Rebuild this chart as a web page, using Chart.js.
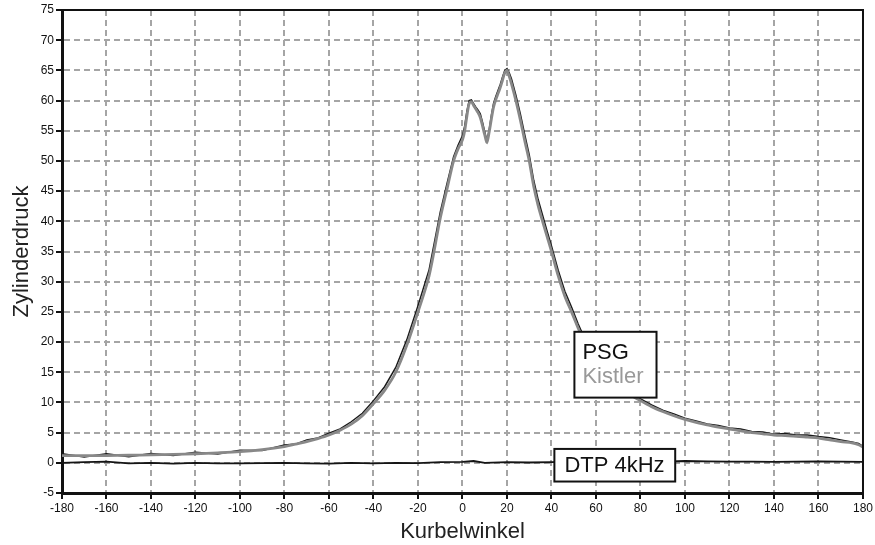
<!DOCTYPE html>
<html>
<head>
<meta charset="utf-8">
<script src="https://cdn.jsdelivr.net/npm/chart.js@4.4.1/dist/chart.umd.min.js"></script>
<style>
  html, body { margin: 0; padding: 0; background: #ffffff; }
  #wrap { width: 875px; height: 545px; position: relative; }
</style>
</head>
<body>
<div id="wrap"><canvas id="c" width="875" height="545"></canvas></div>
<script>
// ---- data ----
const angles = [-180,-170,-160,-150,-140,-130,-120,-110,-100,-90,-80,-75,-70,-65,-60,-55,-50,-45,-40,-35,-30,-25,-20,-15,-10,-7,-4,-2,0,1,2,3,4,5,6,7,8,9,10,11,12,13,14,15,16,17,18,19,20,21,22,24,26,28,30,32,34,36,38,40,43,46,49,52,55,60,65,70,75,80,85,90,95,100,105,110,115,120,125,130,135,140,145,150,155,160,165,170,175,178,180];

const kistler = [1.2,1.2,1.2,1.25,1.3,1.4,1.5,1.65,1.85,2.2,2.7,3.1,3.5,4.0,4.6,5.4,6.4,7.8,9.8,12.0,15.0,19.5,25.0,31.0,40.5,45.3,50.0,52.0,53.5,55.0,57.5,59.5,59.8,59.2,58.6,58.0,57.2,55.8,54.3,53.1,54.8,57.0,59.0,60.2,61.2,62.2,63.4,64.6,65.0,64.0,62.8,60.0,56.8,53.3,50.0,45.8,42.6,40.0,37.5,35.0,31.0,27.6,25.0,22.3,19.8,16.5,14.3,12.7,11.4,10.3,9.3,8.5,7.8,7.2,6.7,6.3,5.9,5.6,5.3,5.0,4.8,4.6,4.5,4.4,4.25,4.1,3.8,3.5,3.3,3.0,2.6];

const psg = [1.5,0.95,1.5,1.0,1.55,1.2,1.75,1.45,2.1,2.05,2.95,3.1,3.8,4.1,4.9,5.6,6.8,8.2,10.3,12.6,15.8,20.4,26.0,32.0,41.5,46.2,50.7,52.6,54.2,55.8,58.3,60.0,60.1,59.5,58.9,58.4,57.8,56.4,54.8,53.3,55.2,57.6,59.6,60.7,61.7,62.7,63.9,65.0,65.3,64.6,63.6,60.9,57.8,54.3,51.0,46.8,43.6,41.0,38.4,35.9,31.9,28.4,25.8,23.0,20.5,17.0,14.7,13.0,11.7,10.6,9.6,8.7,8.1,7.4,6.95,6.45,6.2,5.75,5.6,5.2,5.1,4.75,4.85,4.6,4.6,4.35,4.15,3.8,3.45,3.2,2.7];

const dtpAngles = [-180,-170,-160,-150,-140,-130,-120,-110,-100,-90,-80,-70,-60,-50,-40,-30,-20,-10,0,5,10,20,30,40,50,60,70,80,90,100,110,120,130,140,150,160,170,180];
const dtp = [0.0,0.1,0.2,-0.1,0.0,-0.15,0.0,-0.1,-0.1,-0.05,0.0,-0.1,-0.15,0.0,-0.1,0.0,-0.05,0.1,0.15,0.3,0.0,0.1,0.05,0.1,0.2,0.15,0.2,0.25,0.2,0.3,0.25,0.2,0.2,0.15,0.2,0.25,0.2,0.15];

const xTicks = [-180,-160,-140,-120,-100,-80,-60,-40,-20,0,20,40,60,80,100,120,140,160,180];
const yTicks = [-5,0,5,10,15,20,25,30,35,40,45,50,55,60,65,70,75];

const seriesNames = ['PSG', 'Kistler', 'DTP 4kHz'];
const xTitle = 'Kurbelwinkel';
const yTitle = 'Zylinderdruck';

// ---- chart ----
const FONT = '"Liberation Sans", Arial, Helvetica, sans-serif';

function pts(xs, ys) { return xs.map((x, i) => ({ x: x, y: ys[i] })); }

const boxPlugin = {
  id: 'boxes',
  afterDraw(chart) {
    const { ctx, chartArea: a, scales: { x, y } } = chart;
    ctx.save();
    // frame top and right
    ctx.strokeStyle = '#111';
    ctx.lineWidth = 2;
    ctx.beginPath();
    ctx.moveTo(a.left, a.top);
    ctx.lineTo(a.right, a.top);
    ctx.lineTo(a.right, a.bottom);
    ctx.stroke();

    ctx.font = '22px ' + FONT;
    ctx.textBaseline = 'middle';
    ctx.textAlign = 'left';

    // box 1: PSG / Kistler
    let l = x.getPixelForValue(50.3), r = x.getPixelForValue(87.2);
    let t = y.getPixelForValue(21.7), b = y.getPixelForValue(10.8);
    ctx.fillStyle = '#fff';
    ctx.fillRect(l, t, r - l, b - t);
    ctx.lineWidth = 2;
    ctx.strokeStyle = '#111';
    ctx.strokeRect(l, t, r - l, b - t);
    ctx.fillStyle = '#111';
    ctx.fillText(seriesNames[0], l + 8, t + 21);
    ctx.fillStyle = '#999';
    ctx.fillText(seriesNames[1], l + 8, t + 45);

    // box 2: DTP
    l = x.getPixelForValue(41.3); r = x.getPixelForValue(95.6);
    t = y.getPixelForValue(2.3); b = y.getPixelForValue(-3.1);
    ctx.fillStyle = '#fff';
    ctx.fillRect(l, t, r - l, b - t);
    ctx.strokeStyle = '#111';
    ctx.strokeRect(l, t, r - l, b - t);
    ctx.fillStyle = '#111';
    ctx.fillText(seriesNames[2], l + 10, (t + b) / 2 + 1);
    ctx.restore();
  }
};

new Chart(document.getElementById('c'), {
  type: 'line',
  data: {
    datasets: [
      { label: seriesNames[2], data: pts(dtpAngles, dtp), borderColor: '#151515', borderWidth: 1.8, pointRadius: 0, tension: 0, order: 1 },
      { label: seriesNames[1], data: pts(angles, kistler), borderColor: '#888888', borderWidth: 2.8, pointRadius: 0, tension: 0.3, order: 2 },
      { label: seriesNames[0], data: pts(angles, psg), borderColor: '#1a1a1a', borderWidth: 1.5, pointRadius: 0, tension: 0, order: 3 }
    ]
  },
  options: {
    responsive: false,
    animation: false,
    devicePixelRatio: 1,
    layout: { padding: { top: 10, right: 11, left: 0, bottom: 0 } },
    plugins: { legend: { display: false }, tooltip: { enabled: false } },
    scales: {
      x: {
        type: 'linear', min: -180, max: 180,
        afterBuildTicks: s => { s.ticks = xTicks.map(v => ({ value: v })); },
        afterFit: s => { s.height = 52; },
        ticks: { font: { family: FONT, size: 12 }, color: '#111', padding: 2, maxRotation: 0, autoSkip: false, callback: v => String(v) },
        grid: { color: '#a5a5a5', lineWidth: 2, tickColor: '#111', tickWidth: 2, tickLength: 6 },
        border: { display: true, color: '#111', width: 3, dash: [6, 4] },
        title: { display: true, text: xTitle, font: { family: FONT, size: 22 }, color: '#222', padding: { top: 0, bottom: 0 } }
      },
      y: {
        type: 'linear', min: -5, max: 75,
        afterBuildTicks: s => { s.ticks = yTicks.map(v => ({ value: v })); },
        afterFit: s => { s.width = 62; },
        ticks: { font: { family: FONT, size: 12 }, color: '#111', padding: 2, autoSkip: false, callback: v => String(v) },
        grid: { color: '#a5a5a5', lineWidth: 2, tickColor: '#111', tickWidth: 2, tickLength: 6 },
        border: { display: true, color: '#111', width: 3, dash: [6, 4] },
        title: { display: true, text: yTitle, font: { family: FONT, size: 22 }, color: '#222', padding: { top: 9, bottom: 0 } }
      }
    }
  },
  plugins: [boxPlugin]
});
</script>
</body>
</html>
